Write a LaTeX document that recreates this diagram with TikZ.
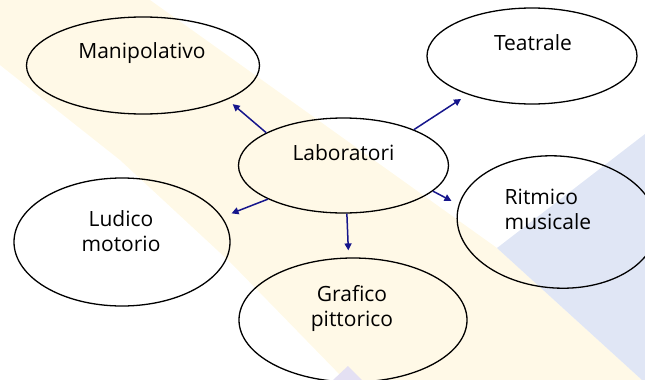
\documentclass[tikz,border=0pt]{standalone}
\usepackage{fontspec}
\setmainfont{Open Sans}
\usetikzlibrary{shapes.geometric,arrows.meta}
\definecolor{cream}{RGB}{255,249,231}
\definecolor{paleblue}{RGB}{224,230,245}
\definecolor{lilac}{RGB}{228,224,243}
\definecolor{navy}{RGB}{22,22,140}
\begin{document}
\begin{tikzpicture}[x=1pt,y=-1pt,
    blob/.style={draw,ellipse,line width=1.3pt,inner sep=0pt},
    txt/.style={font=\fontsize{21}{25}\selectfont,align=center},
    arr/.style={navy,line width=1.5pt,-{Triangle[length=7pt,width=7pt]}}]
    \useasboundingbox (0,0) rectangle (645,380);
    % sfondo
    \fill[cream] (0,0) -- (150,0) -- (497,248) -- (642,380) -- (345,380) -- (230,262) -- (120,160) -- (0,65) -- cycle;
    \fill[paleblue] (497,248) -- (645,134) -- (645,380) -- (642,380) -- cycle;
    \fill[lilac] (333,380) -- (348,366) -- (362,380) -- cycle;
    % ellissi
    \node[blob,minimum width=210pt,minimum height=95pt] (lab) at (343.5,165.5) {};
    \node[blob,minimum width=233pt,minimum height=97pt] (manip) at (143,65.5) {};
    \node[blob,minimum width=210pt,minimum height=96pt] (tea) at (532,56) {};
    \node[blob,minimum width=216pt,minimum height=128pt] (ludi) at (122,242) {};
    \node[blob,minimum width=200pt,minimum height=132pt,rotate=-4] (ritm) at (557,222) {};
    \node[blob,minimum width=228pt,minimum height=124pt] (graf) at (353,320) {};
    % testi
    \node[txt] (labt) at (343.5,153) {Laboratori};
    \node[txt] (manipt) at (142,53) {Manipolativo};
    \node[txt] (teat) at (533,43) {Teatrale};
    \node[txt] (ludit) at (121,231) {Ludico\\motorio};
    \node[txt,align=left] (ritmt) at (548,209) {Ritmico\\musicale};
    \node[txt] (graft) at (352,308) {Grafico\\pittorico};
    % frecce
    \draw[arr,shorten >=7pt] (lab.157) -- (manip.338);
    \draw[arr,shorten >=8pt] (lab.27) -- (tea.211);
    \draw[arr,shorten >=10pt] (lab.204) -- (ludi.14);
    \draw[arr,shorten >=8pt] (lab.344) -- (ritm.174);
    \draw[arr,shorten >=7pt] (lab.-86) -- (graf.94);
\end{tikzpicture}
\end{document}
